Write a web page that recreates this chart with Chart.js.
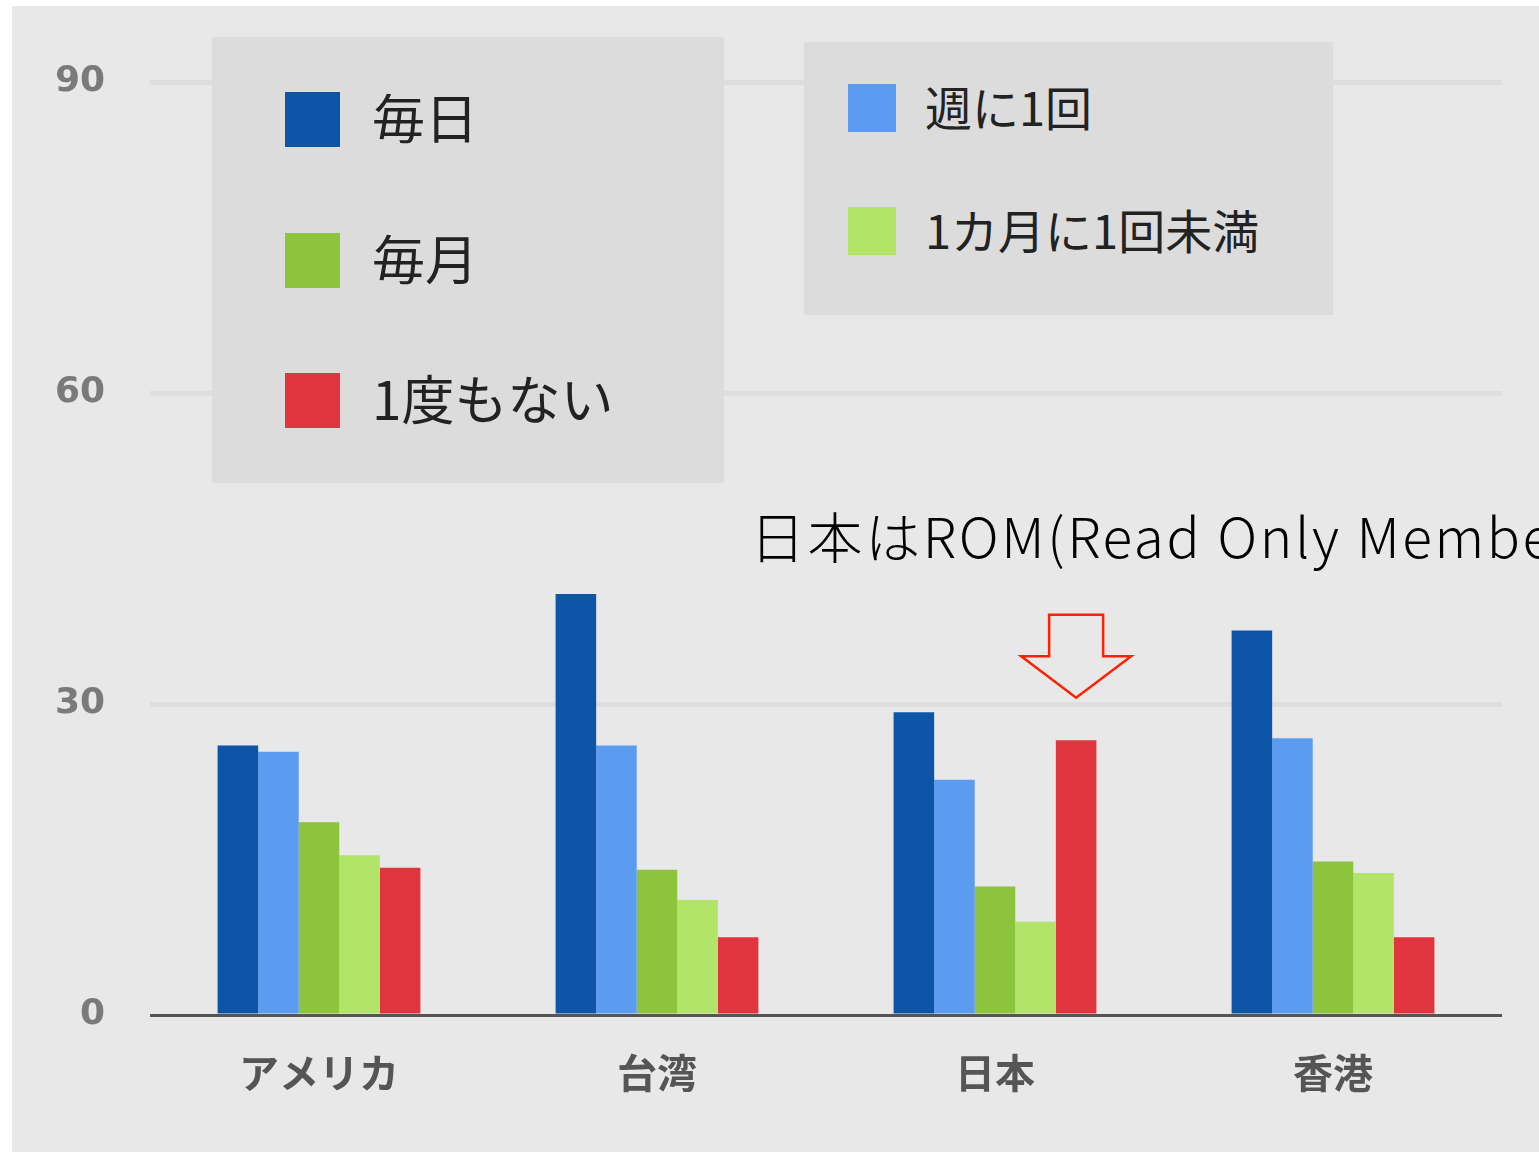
<!DOCTYPE html>
<html>
<head>
<meta charset="utf-8">
<script src="https://cdn.jsdelivr.net/npm/chart.js@4/dist/chart.umd.min.js"></script>
<style>
  body { margin: 0; background: #fff; width: 1539px; height: 1155px; overflow: hidden; position: relative; font-family: "Noto Sans CJK JP", sans-serif; }
  #bg { position: absolute; left: 12px; top: 6px; width: 1527px; height: 1146px; background: #e8e8e8; }
  #chart { position: absolute; left: 0; top: 0; }
  .legend { position: absolute; background: #dcdcdc; }
  .item { position: absolute; display: flex; align-items: center; color: #222; white-space: nowrap; line-height: 1; }
  .swatch { display: inline-block; }
  #note { position: absolute; left: 750px; top: 494px; font-size: 55px; letter-spacing: 2.6px; color: #000; white-space: nowrap; font-family: "Noto Sans CJK JP", sans-serif; font-weight: 300; }
</style>
</head>
<body>
<div id="bg"></div>
<canvas id="chart" width="1539" height="1155"></canvas>
<div class="legend" style="left:212px;top:37px;width:512px;height:446px;" id="legend1"></div>
<div class="legend" style="left:804px;top:42px;width:529px;height:273px;" id="legend2"></div>
<div id="note">日本はROM(Read Only Member)</div>
<script>
const countries = ['アメリカ', '台湾', '日本', '香港'];
const seriesNames = ['毎日', '週に1回', '毎月', '1カ月に1回未満', '1度もない'];
const seriesColors = ['#0d55a6', '#5b9bf0', '#8cc43c', '#b3e46a', '#e0353f'];

const daily = [26.0, 40.6, 29.2, 37.1];
const weekly = [25.4, 26.0, 22.7, 26.7];
const monthly = [18.6, 14.0, 12.4, 14.8];
const lessThanMonthly = [15.4, 11.1, 9.0, 13.7];
const never = [14.2, 7.5, 26.5, 7.5];

const yTicks = [0, 30, 60, 90];
// arrow over Japan's "never" bar, in data units
const arrowTip = 30.6;
const arrowShoulder = 34.6;
const arrowTop = 38.6;

const values = [daily, weekly, monthly, lessThanMonthly, never];

// legends drawn as html, placed like the picture
function addItem(box, i, top, left, size, font, gap) {
  const el = document.createElement('div');
  el.className = 'item';
  el.style.left = left + 'px';
  el.style.top = top + 'px';
  el.style.height = size + 'px';
  el.style.fontSize = font + 'px';
  el.innerHTML = `<span class="swatch" style="width:${size}px;height:${size}px;background:${seriesColors[i]};margin-right:${gap}px"></span><span style="margin-top:-6px">${seriesNames[i]}</span>`;
  box.appendChild(el);
}
const l1 = document.getElementById('legend1');
addItem(l1, 0, 55, 73, 55, 53, 32);
addItem(l1, 2, 196, 73, 55, 53, 32);
addItem(l1, 4, 336, 73, 55, 53, 32);
const l2 = document.getElementById('legend2');
addItem(l2, 1, 42, 44, 48, 47, 29);
addItem(l2, 3, 165, 44, 48, 47, 29);

const arrowPlugin = {
  id: 'arrow',
  afterDatasetsDraw(chart) {
    const bar = chart.getDatasetMeta(4).data[2];
    const y = chart.scales.y;
    const cx = bar.x;
    const tip = y.getPixelForValue(arrowTip);
    const sh = y.getPixelForValue(arrowShoulder);
    const top = y.getPixelForValue(arrowTop);
    const ctx = chart.ctx;
    ctx.save();
    ctx.beginPath();
    ctx.moveTo(cx - 27, top);
    ctx.lineTo(cx + 27, top);
    ctx.lineTo(cx + 27, sh);
    ctx.lineTo(cx + 55, sh);
    ctx.lineTo(cx, tip);
    ctx.lineTo(cx - 55, sh);
    ctx.lineTo(cx - 27, sh);
    ctx.closePath();
    ctx.strokeStyle = '#ff2200';
    ctx.lineWidth = 2.5;
    ctx.stroke();
    ctx.restore();
  }
};

new Chart(document.getElementById('chart'), {
  type: 'bar',
  data: {
    labels: countries,
    datasets: values.map((v, i) => ({
      label: seriesNames[i],
      data: v,
      backgroundColor: seriesColors[i],
      borderWidth: 0
    }))
  },
  options: {
    responsive: false,
    animation: false,
    layout: { padding: { top: 82, right: 37, left: 0, bottom: 0 } },
    datasets: { bar: { categoryPercentage: 0.6, barPercentage: 1.0 } },
    plugins: { legend: { display: false }, tooltip: { enabled: false } },
    scales: {
      x: {
        afterFit: (s) => { s.height = 140; },
        grid: { display: false },
        border: { display: false },
        ticks: {
          color: '#555',
          padding: 26,
          font: { family: '"Noto Sans CJK JP"', size: 40, weight: 'bold' }
        }
      },
      y: {
        min: 0,
        max: 90,
        afterFit: (s) => { s.width = 150; },
        afterBuildTicks: (s) => { s.ticks = yTicks.map(v => ({ value: v })); },
        border: { display: false },
        grid: {
          color: (c) => c.tick.value === 0 ? '#555' : 'rgba(0,0,0,0.045)',
          lineWidth: (c) => c.tick.value === 0 ? 3 : 5,
          drawTicks: false
        },
        ticks: {
          color: '#7a7a7a',
          padding: 45,
          font: { family: 'DejaVu Sans', size: 36, weight: 'bold' }
        }
      }
    }
  },
  plugins: [arrowPlugin]
});
</script>
</body>
</html>
